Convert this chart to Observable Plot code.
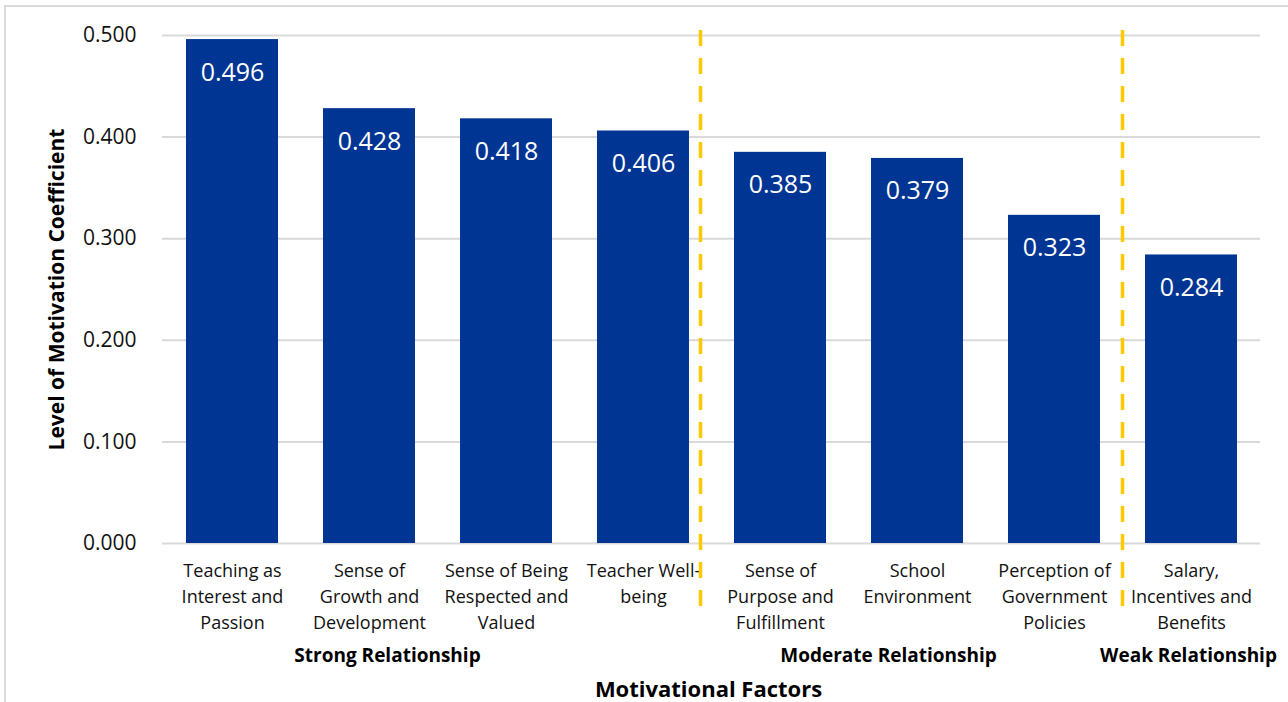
<!DOCTYPE html>
<html>
<head>
<meta charset="utf-8">
<script src="https://cdn.jsdelivr.net/npm/d3@7"></script>
<script src="https://cdn.jsdelivr.net/npm/@observablehq/plot@0.6"></script>
<style>
  html, body { margin: 0; padding: 0; background: #fff; overflow: hidden; }
  #frame { position: absolute; left: 4px; top: 5px; width: 2000px; height: 2000px;
           border: 2px solid #d9d9d9; box-sizing: border-box; }
  #chart { position: absolute; left: 0; top: 0; }
</style>
</head>
<body>
<div id="frame"></div>
<div id="chart"></div>
<script>
const categories = [
  "Teaching as Interest and Passion",
  "Sense of Growth and Development",
  "Sense of Being Respected and Valued",
  "Teacher Well-being",
  "Sense of Purpose and Fulfillment",
  "School Environment",
  "Perception of Government Policies",
  "Salary, Incentives and Benefits"
];
const tickLabels = [
  "Teaching as\nInterest and\nPassion",
  "Sense of\nGrowth and\nDevelopment",
  "Sense of Being\nRespected and\nValued",
  "Teacher Well-\nbeing",
  "Sense of\nPurpose and\nFulfillment",
  "School\nEnvironment",
  "Perception of\nGovernment\nPolicies",
  "Salary,\nIncentives and\nBenefits"
];
const values = [0.496, 0.428, 0.418, 0.406, 0.385, 0.379, 0.323, 0.284];
const yTicks = [0, 0.1, 0.2, 0.3, 0.4, 0.5];
const groupNames = ["Strong Relationship", "Moderate Relationship", "Weak Relationship"];
const groupAnchors = ["Sense of Growth and Development", "School Environment", "Salary, Incentives and Benefits"];
const dividerAfter = ["Teacher Well-being", "Perception of Government Policies"];

const data = categories.map((c, i) => ({category: c, value: values[i], label: tickLabels[i]}));
const FONT = "'Open Sans', 'DejaVu Sans', sans-serif";
const BLUE = "#003594";
const GOLD = "#FFC800";

const chart = Plot.plot({
  width: 1288,
  height: 702,
  marginLeft: 162,
  marginRight: 28,
  marginTop: 35,
  marginBottom: 159,
  style: {fontFamily: FONT, background: "transparent", color: "#111", overflow: "visible"},
  x: {domain: categories, paddingInner: 0.33, paddingOuter: 0.165, axis: null},
  y: {domain: [0, 0.5], axis: null},
  marks: [
    Plot.gridY(yTicks, {stroke: "#d9d9d9", strokeOpacity: 1, strokeWidth: 2}),
    Plot.axisY(yTicks, {tickFormat: d3.format(".3f"), tickSize: 0, tickPadding: 26, fontSize: 21, label: null, fill: "#111"}),
    Plot.barY(data, {x: "category", y: "value", fill: BLUE}),
    Plot.text(data, {x: "category", y: "value", text: d => d3.format(".3f")(d.value), dy: 33, fill: "#fff", fontSize: 25}),
    Plot.text(data, {x: "category", y: 0, text: "label", lineAnchor: "top", dy: 15, fontSize: 18, lineHeight: 1.44, fill: "#111"}),
    Plot.ruleX([dividerAfter[0]], {x: d => d, dx: 57, stroke: GOLD, strokeWidth: 3.5, strokeDasharray: "16,12", insetTop: -5, insetBottom: -63}),
    Plot.ruleX([dividerAfter[1]], {x: d => d, dx: 68, stroke: GOLD, strokeWidth: 3.5, strokeDasharray: "16,12", insetTop: -5, insetBottom: -63}),
    Plot.text([groupNames[0]], {x: () => groupAnchors[0], y: 0, text: d => d, dx: 18, dy: 112, fontSize: 19, fontWeight: 700, fill: "#000"}),
    Plot.text([groupNames[1]], {x: () => groupAnchors[1], y: 0, text: d => d, dx: -29, dy: 112, fontSize: 19, fontWeight: 700, fill: "#000"}),
    Plot.text([groupNames[2]], {x: () => groupAnchors[2], y: 0, text: d => d, dx: -3, dy: 112, fontSize: 19, fontWeight: 700, fill: "#000"}),
    Plot.text(["Motivational Factors"], {frameAnchor: "bottom", text: d => d, dx: -3, dy: 153, fontSize: 22, fontWeight: 700, fill: "#000"}),
    Plot.text(["Level of Motivation Coefficient"], {frameAnchor: "left", textAnchor: "middle", text: d => d, rotate: -90, dx: -105, fontSize: 21, fontWeight: 700, fill: "#000"})
  ]
});
document.getElementById("chart").appendChild(chart);
</script>
</body>
</html>
